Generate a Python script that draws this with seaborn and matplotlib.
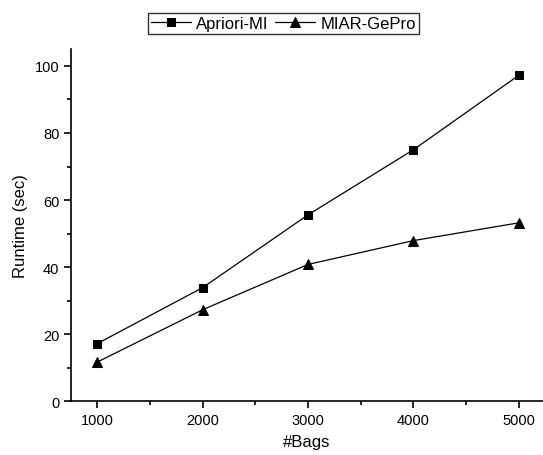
import pandas as pd
import matplotlib.pyplot as plt
import seaborn as sns
from matplotlib.ticker import MultipleLocator

# 数据
bags = [1000, 2000, 3000, 4000, 5000]
apriori_mi = [17.2, 33.9, 55.6, 75.0, 97.2]
miar_gepro = [11.7, 27.3, 40.8, 47.9, 53.2]

df = pd.DataFrame({'#Bags': bags, 'Apriori-MI': apriori_mi, 'MIAR-GePro': miar_gepro})

sns.set_style('ticks')
plt.rcParams['font.family'] = ['Liberation Sans', 'DejaVu Sans']
plt.rcParams['text.color'] = 'black'
plt.rcParams['axes.labelcolor'] = 'black'

fig = plt.figure(figsize=(5.43, 4.56), dpi=100)
ax = fig.add_axes([0.131, 0.118, 0.869, 0.772])

sns.lineplot(data=df, x='#Bags', y='Apriori-MI', marker='s', color='black',
             markersize=5.5, linewidth=0.9, markeredgecolor='black', label='Apriori-MI', ax=ax)
sns.lineplot(data=df, x='#Bags', y='MIAR-GePro', marker='^', color='black',
             markersize=7, linewidth=0.9, markeredgecolor='black', label='MIAR-GePro', ax=ax)

ax.set_xlim(750, 5230)
ax.set_ylim(0, 105)
ax.xaxis.set_major_locator(MultipleLocator(1000))
ax.xaxis.set_minor_locator(MultipleLocator(500))
ax.yaxis.set_major_locator(MultipleLocator(20))
ax.yaxis.set_minor_locator(MultipleLocator(10))
ax.tick_params(which='major', direction='out', length=5, width=1.2, labelsize=10.5,
               colors='black', labelcolor='black')
ax.tick_params(which='minor', direction='out', length=3, width=1.2, colors='black')
for s in ['top', 'right']:
    ax.spines[s].set_visible(False)
for s in ['left', 'bottom']:
    ax.spines[s].set_linewidth(1.2)
    ax.spines[s].set_color('black')

ax.set_xlabel('#Bags', fontsize=12, labelpad=5, color='black')
ax.set_ylabel('Runtime (sec)', fontsize=12, labelpad=5, color='black')

leg = ax.legend(loc='upper center', bbox_to_anchor=(0.45, 1.104), ncol=2, fontsize=12,
                frameon=True, fancybox=False, edgecolor='black', handlelength=2.4,
                handletextpad=0.3, columnspacing=0.4, borderpad=0.2, borderaxespad=0)
leg.get_frame().set_linewidth(1.0)
for t in leg.get_texts():
    t.set_color('black')

plt.savefig('out.png', dpi=100)
